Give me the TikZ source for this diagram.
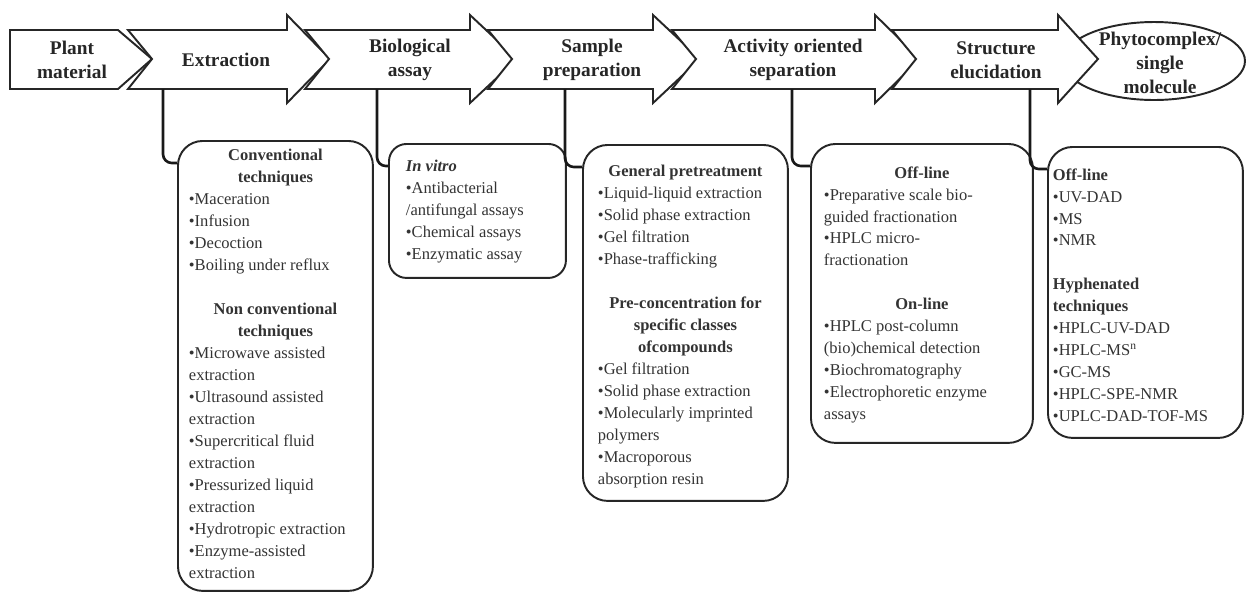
\documentclass[tikz,border=0pt]{standalone}
\usepackage{fontspec}
\setmainfont{Liberation Serif}
\usetikzlibrary{shapes.geometric,calc,positioning}
\newcommand{\bulit}{\textbullet}

\begin{document}
\begin{tikzpicture}[
    x=0.02cm, y=-0.02cm,
    stage/.style={draw=black!85, line width=1.1pt, fill=white, line join=miter},
    stagetxt/.style={font=\fontsize{11}{13.7}\selectfont\bfseries, text=black!85, align=center, inner sep=0pt},
    goal/.style={ellipse, draw=black!85, line width=1.1pt, fill=white, inner sep=0pt},
    panel/.style={draw=black!85, line width=1.1pt, rounded corners=14pt, anchor=north west, inner ysep=0pt, text=black!80, font=\fontsize{9.4}{12.5}\selectfont},
    stem/.style={draw=black!90, line width=1.5pt, rounded corners=5pt}
]
\useasboundingbox (0,0) rectangle (1247,593);

\node[goal, minimum width=3.64cm, minimum height=1.56cm] (phyto) at (1154,61) {};

\draw[stage] (10,30) -- (118,30) -- (152,59) -- (118,89) -- (10,89) -- cycle;
\foreach \xa/\xb/\xc in {128/287/330, 305/470/517, 488/653/700, 672/875/920, 892/1058/1098}
  \draw[stage] (\xa,30) -- (\xb,30) -- (\xb,15) -- (\xc,59) -- (\xb,103) -- (\xb,89) -- (\xa,89) -- (\xa+24,59) -- cycle;

\node[stagetxt] (plant) at (72,60) {Plant\\material};
\node[stagetxt] (extr) at (226,60) {Extraction};
\node[stagetxt] (bioas) at (410,60) {Biological\\assay};
\node[stagetxt] (sampl) at (592,60) {Sample\\preparation};
\node[stagetxt] (activ) at (793,60) {Activity oriented\\separation};
\node[stagetxt] (struc) at (996,60) {Structure\\elucidation};
\node[stagetxt] (phytotxt) at (1160,63) {Phytocomplex/\\single\\molecule};

\coordinate (extr-s) at (163,89);
\coordinate (bioas-s) at (377,89);
\coordinate (sampl-s) at (565,89);
\coordinate (activ-s) at (792,89);
\coordinate (struc-s) at (1030,89);

\node[panel, inner xsep=0.22cm] (extrbox) at (177,140) {\parbox[t][9cm][t]{3.46cm}{\raggedright\vspace*{0.17cm}%
{\centering\bfseries Conventional\\techniques\par}
\bulit Maceration\\
\bulit Infusion\\
\bulit Decoction\\
\bulit Boiling under reflux\par
\vspace{12.5pt}
{\centering\bfseries Non conventional\\techniques\par}
\bulit Microwave assisted\\
extraction\\
\bulit Ultrasound assisted\\
extraction\\
\bulit Supercritical fluid\\
extraction\\
\bulit Pressurized liquid\\
extraction\\
\bulit Hydrotropic extraction\\
\bulit Enzyme-assisted\\
extraction}};

\node[panel, rounded corners=10pt, inner xsep=0.34cm] (bioasbox) at (388,143) {\parbox[t][2.68cm][t]{2.86cm}{\raggedright\vspace*{0.33cm}%
\textbf{\textit{In vitro}}\\
\bulit Antibacterial\\
/antifungal assays\\
\bulit Chemical assays\\
\bulit Enzymatic assay}};

\node[panel, inner xsep=0.3cm] (samplbox) at (582,144) {\parbox[t][7.12cm][t]{3.5cm}{\raggedright\vspace*{0.41cm}%
{\centering\bfseries General pretreatment\par}
\bulit Liquid-liquid extraction\\
\bulit Solid phase extraction\\
\bulit Gel filtration\\
\bulit Phase-trafficking\par
\vspace{12.5pt}
{\centering\bfseries Pre-concentration for\\specific classes\\ofcompounds\par}
\bulit Gel filtration\\
\bulit Solid phase extraction\\
\bulit Molecularly imprinted\\
polymers\\
\bulit Macroporous\\
absorption resin}};

\node[panel, inner xsep=0.26cm] (activbox) at (810,143) {\parbox[t][5.98cm][t]{3.92cm}{\raggedright\vspace*{0.45cm}%
{\centering\bfseries Off-line\par}
\bulit Preparative scale bio-\\
guided fractionation\\
\bulit HPLC micro-\\
fractionation\par
\vspace{12.5pt}
{\centering\bfseries On-line\par}
\bulit HPLC post-column\\
(bio)chemical detection\\
\bulit Biochromatography\\
\bulit Electrophoretic enzyme\\
assays}};

\node[panel, inner xsep=0.1cm] (strucbox) at (1047,146) {\parbox[t][5.82cm][t]{3.7cm}{\raggedright\vspace*{0.43cm}%
\textbf{Off-line}\\
\bulit UV-DAD\\
\bulit MS\\
\bulit NMR\par
\vspace{12.5pt}
\textbf{Hyphenated}\\
\textbf{techniques}\\
\bulit HPLC-UV-DAD\\
\bulit HPLC-MS\textsuperscript{n}\\
\bulit GC-MS\\
\bulit HPLC-SPE-NMR\\
\bulit UPLC-DAD-TOF-MS}};

\draw[stem] (extr-s) |- ($(extrbox.north west)+(0,23)$);
\draw[stem] (bioas-s) |- ($(bioasbox.north west)+(0,23)$);
\draw[stem] (sampl-s) |- ($(samplbox.north west)+(0,23)$);
\draw[stem] (activ-s) |- ($(activbox.north west)+(0,23)$);
\draw[stem] (struc-s) |- ($(strucbox.north west)+(0,23)$);

\end{tikzpicture}
\end{document}
